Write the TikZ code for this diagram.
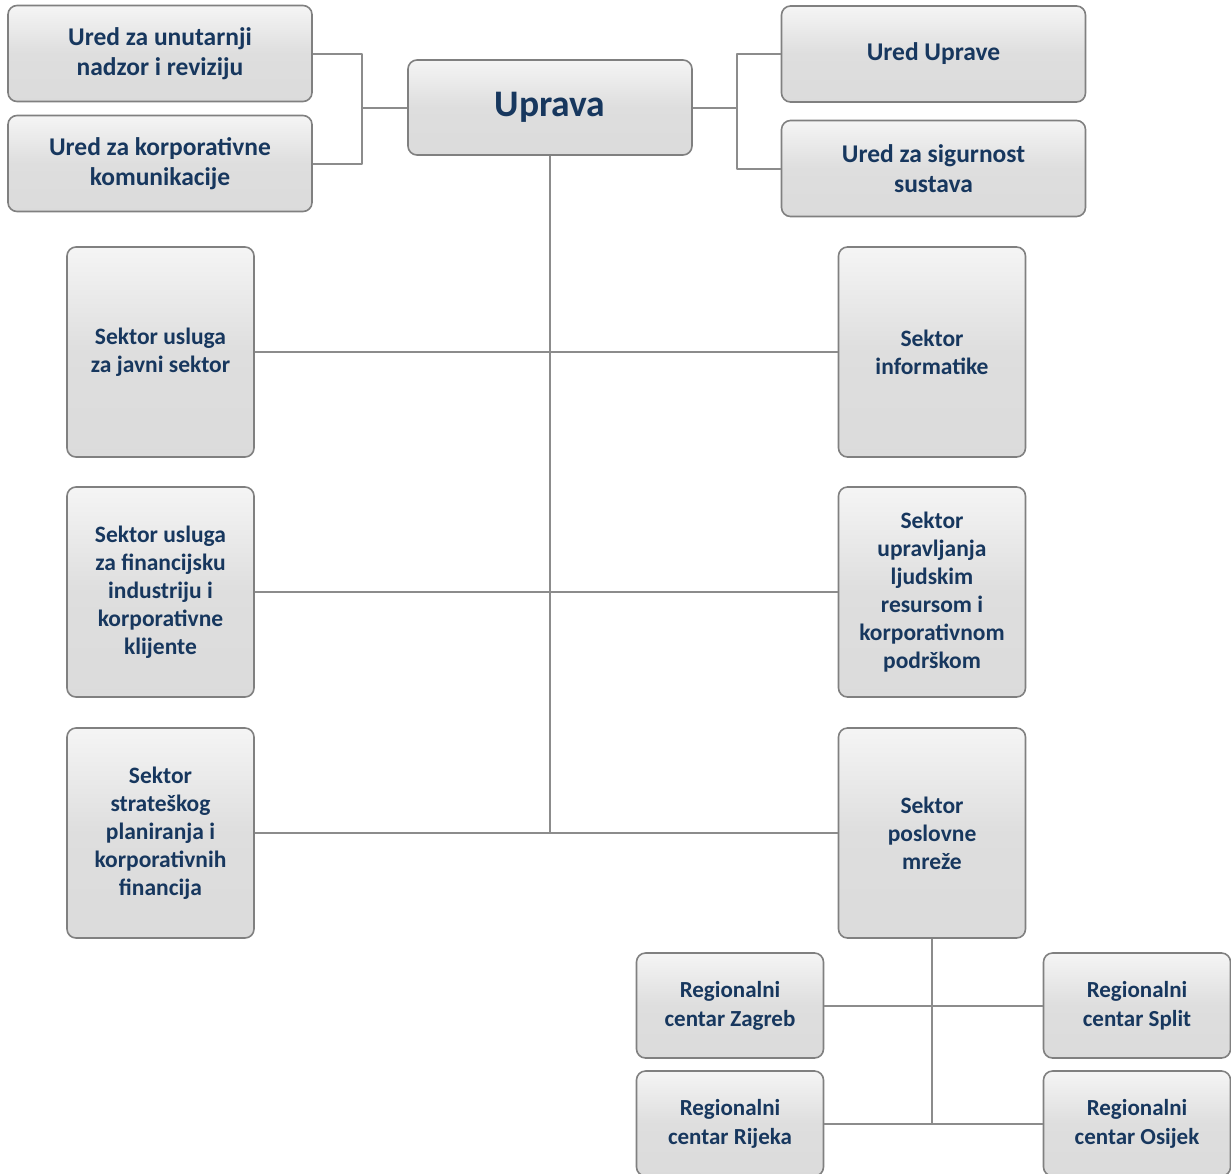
\documentclass[tikz,border=0pt]{standalone}
\usepackage{fontspec}
\setmainfont{Carlito}
\usepackage{tikz}
\definecolor{navy}{RGB}{23,55,94}
\definecolor{boxline}{RGB}{128,128,128}
\definecolor{conncol}{RGB}{140,140,140}

\begin{document}
\begin{tikzpicture}[line cap=round,line join=round,x=1pt,y=-1pt,
  box/.style={draw=boxline,line width=1.6pt,rounded corners=9pt,top color=white!92!gray,bottom color=gray!28,middle color=gray!26,shading angle=0,text=navy,align=center,inner sep=0pt,font=\bfseries\fontsize{23.5}{28}\selectfont},
  topbox/.style={box,minimum width=304pt,minimum height=96pt,font=\bfseries\fontsize{25.5}{30}\selectfont},
  sektor/.style={box,minimum width=187pt,minimum height=210pt},
  regbox/.style={box,minimum width=187pt,minimum height=105pt,font=\bfseries\fontsize{23}{29}\selectfont},
  conn/.style={draw=conncol,line width=2pt,line cap=butt}]
\useasboundingbox (0,0) rectangle (1231,1173);
\node[topbox] (unutarnji) at (160,53.5) {Ured za unutarnji\\nadzor i reviziju};
\node[topbox] (komunik) at (160,163.5) {Ured za korporativne\\komunikacije};
\node[box,minimum width=284pt,minimum height=95pt,font=\bfseries\fontsize{37.5}{40}\selectfont] (uprava) at (550,107.5) {Uprava};
\node[topbox] (ured) at (933.5,54) {Ured Uprave};
\node[topbox] (sigurnost) at (933.5,168.5) {Ured za sigurnost\\sustava};
\node[sektor] (javni) at (160.5,352) {Sektor usluga\\za javni sektor};
\node[sektor] (informatika) at (932,352) {Sektor\\informatike};
\node[sektor] (financ) at (160.5,592) {Sektor usluga\\za financijsku\\industriju i\\korporativne\\klijente};
\node[sektor] (ljudski) at (932,592) {Sektor\\upravljanja\\ljudskim\\resursom i\\korporativnom\\podrškom};
\node[sektor] (strateg) at (160.5,833) {Sektor\\strateškog\\planiranja i\\korporativnih\\financija};
\node[sektor] (mreza) at (932,833) {Sektor\\poslovne\\mreže};
\node[regbox] (zagreb) at (730,1005.5) {Regionalni\\centar Zagreb};
\node[regbox] (split) at (1137,1005.5) {Regionalni\\centar Split};
\node[regbox] (rijeka) at (730,1123.5) {Regionalni\\centar Rijeka};
\node[regbox] (osijek) at (1137,1123.5) {Regionalni\\centar Osijek};
\coordinate (lbr) at (362,107.5);
\coordinate (rbr) at (737,107.5);
\draw[conn] (unutarnji.east) -| (lbr) |- (komunik.east);
\draw[conn] (lbr) -- (uprava.west);
\draw[conn] (ured.west) -| (rbr) |- (sigurnost.west);
\draw[conn] (uprava.east) -- (rbr);
\draw[conn] (uprava.south) -- (uprava.south |- strateg.east);
\draw[conn] (javni.east) -- (informatika.west);
\draw[conn] (financ.east) -- (ljudski.west);
\draw[conn] (strateg.east) -- (mreza.west);
\draw[conn] (mreza.south) -- (mreza.south |- osijek.west);
\draw[conn] (zagreb.east) -- (split.west);
\draw[conn] (rijeka.east) -- (osijek.west);
\end{tikzpicture}
\end{document}
